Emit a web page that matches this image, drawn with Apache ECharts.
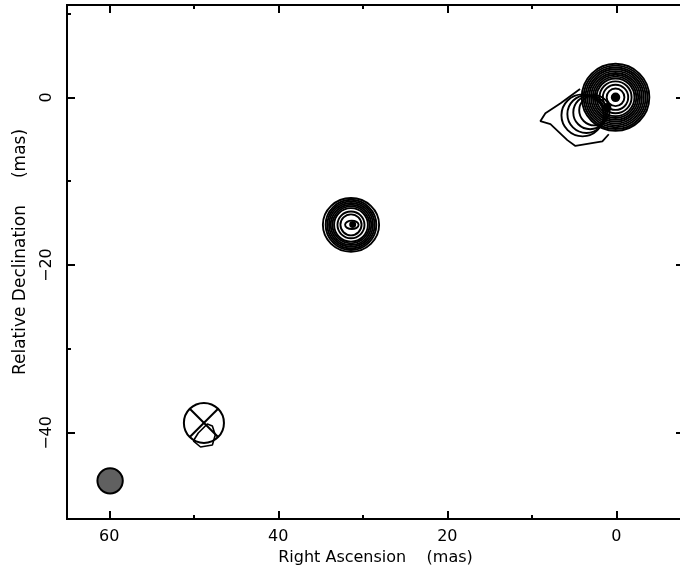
<!DOCTYPE html>
<html>
<head>
<meta charset="utf-8">
<script src="https://cdn.jsdelivr.net/npm/echarts@6/dist/echarts.min.js"></script>
<style>
html,body{margin:0;padding:0;background:#fff;}
#chart{width:680px;height:570px;}
</style>
</head>
<body>
<div id="chart"></div>
<script>
// ---- tick values (mas) ----
const xTicksMajor = [60, 40, 20, 0];
const xTicksMinor = [50, 30, 10];
const yTicksMajor = [0, -20, -40];
const yTicksMinor = [10, -10, -30];

// ---- core component contours: centre (RA, Dec) and radii (mas) ----
const coreCenter = [0.1, 0.0];
const coreRadii = [4.0, 3.78, 3.56, 3.34, 3.12, 2.9, 2.68, 2.46, 2.24, 1.9, 1.5, 1.05];
// jet contour loops west of core: [RA, Dec, radius]
const jetLoops = [[4.0, -2.15, 2.5], [3.55, -2.0, 2.25], [3.1, -1.8, 2.0], [2.6, -1.55, 1.8]];
// outer jet contour (RA, Dec)
const jetOuterRA  = [4.3, 6.6, 8.4, 9.0, 7.8, 5.8, 4.85, 1.66, 0.9];
const jetOuterDec = [1.0, -0.7, -1.9, -2.85, -3.2, -5.1, -5.8, -5.25, -4.4];

// ---- secondary component ----
const compCenter = [31.4, -15.2];
const compRadii = [3.2, 3.0, 2.8, 2.6, 2.4, 2.2, 2.0, 1.6, 1.25];
const compInner = [[31.3, -15.2, 0.8, 0.5, 0], [31.2, -15.15, 0.3, 0.3, 1]];

// ---- filled marks at core ----
const coreMarks = [[0.1, 0.0, 0.45, 0.45, 1], [1.1, -1.2, 0.4, 0.4, 1]];

// ---- crossed circle and faint contour ----
const crossCircle = [[48.8, -38.8, 2.37]];
const faintRA  = [50.06, 49.2, 47.8, 47.46, 47.8, 48.4, 49.47, 50.06];
const faintDec = [-40.95, -41.67, -41.43, -40.24, -39.17, -38.93, -40.0, -40.95];

// ---- restoring beam ----
const beam = [[59.9, -45.7, 1.5, 1.5]];

// ---- build data ----
const ellipseData = [];
coreRadii.forEach(r => ellipseData.push([coreCenter[0], coreCenter[1], r, r, 0]));
jetLoops.forEach(j => ellipseData.push([j[0], j[1], j[2], j[2], 0]));
compRadii.forEach((r, i) => ellipseData.push([compCenter[0], compCenter[1], r * (i === 0 ? 1.04 : 1.0), r, 0]));
compInner.forEach(c => ellipseData.push(c));
coreMarks.forEach(c => ellipseData.push(c));

const jetOuter = jetOuterRA.map((x, i) => [x, jetOuterDec[i]]);
const faint = faintRA.map((x, i) => [x, faintDec[i]]);

const FONT = 'DejaVu Sans';
const minus = v => String(v).replace('-', '\u2212');

function ellipseItem(params, api) {
  const c = api.coord([api.value(0), api.value(1)]);
  const s = api.size([api.value(2), api.value(3)]);
  const filled = api.value(4) === 1;
  return {
    type: 'ellipse',
    shape: { cx: c[0], cy: c[1], rx: Math.abs(s[0]), ry: Math.abs(s[1]) },
    style: { fill: filled ? '#000' : null, stroke: '#000', lineWidth: 1.9 }
  };
}

function crossItem(params, api) {
  const c = api.coord([api.value(0), api.value(1)]);
  const s = api.size([api.value(2), api.value(2)]);
  const r = Math.abs(s[0]);
  const d = r * Math.SQRT1_2;
  return {
    type: 'group',
    children: [
      { type: 'circle', shape: { cx: c[0], cy: c[1], r: r }, style: { fill: null, stroke: '#000', lineWidth: 2 } },
      { type: 'line', shape: { x1: c[0] - d, y1: c[1] - d, x2: c[0] + d, y2: c[1] + d }, style: { stroke: '#000', lineWidth: 2 } },
      { type: 'line', shape: { x1: c[0] - d, y1: c[1] + d, x2: c[0] + d, y2: c[1] - d }, style: { stroke: '#000', lineWidth: 2 } }
    ]
  };
}

function beamItem(params, api) {
  const c = api.coord([api.value(0), api.value(1)]);
  const s = api.size([api.value(2), api.value(3)]);
  return {
    type: 'ellipse',
    shape: { cx: c[0], cy: c[1], rx: Math.abs(s[0]), ry: Math.abs(s[1]) },
    style: { fill: '#606060', stroke: '#000', lineWidth: 2 }
  };
}

const axisLine = { show: true, onZero: false, lineStyle: { color: '#000', width: 2 } };
function xAx(pos, ticks, len, labels) {
  return {
    type: 'value', inverse: true, min: -8, max: 65, position: pos,
    axisLine: axisLine,
    splitLine: { show: false },
    axisTick: { show: true, inside: true, length: len, customValues: ticks, lineStyle: { color: '#000', width: 2 } },
    axisLabel: labels ? { show: true, customValues: ticks, margin: 10, color: '#000', fontFamily: FONT, fontSize: 16, formatter: minus } : { show: false },
    name: labels ? 'Right Ascension    (mas)' : '',
    nameLocation: 'middle', nameGap: 28,
    nameTextStyle: { color: '#000', fontFamily: FONT, fontSize: 16 }
  };
}
function yAx(pos, ticks, len, labels) {
  return {
    type: 'value', min: -50.25, max: 11, position: pos,
    axisLine: axisLine,
    splitLine: { show: false },
    axisTick: { show: true, inside: true, length: len, customValues: ticks, lineStyle: { color: '#000', width: 2 } },
    axisLabel: labels ? { show: true, customValues: ticks, rotate: 90, margin: 12, color: '#000', fontFamily: FONT, fontSize: 16, formatter: minus } : { show: false },
    name: labels ? 'Relative Declination     (mas)' : '',
    nameLocation: 'middle', nameGap: 38,
    nameTextStyle: { color: '#000', fontFamily: FONT, fontSize: 17, padding: [0, 0, 0, 20] }
  };
}

const chart = echarts.init(document.getElementById('chart'), null, { renderer: 'canvas' });
chart.setOption({
  animation: false,
  backgroundColor: '#fff',
  grid: { left: 67, top: 5, width: 617, height: 514, containLabel: false, outerBoundsMode: 'none' },
  xAxis: [
    xAx('bottom', xTicksMajor, 8, true),
    xAx('bottom', xTicksMinor, 4, false),
    xAx('top', xTicksMajor, 8, false),
    xAx('top', xTicksMinor, 4, false)
  ],
  yAxis: [
    yAx('left', yTicksMajor, 8, true),
    yAx('left', yTicksMinor, 4, false),
    yAx('right', yTicksMajor, 8, false),
    yAx('right', yTicksMinor, 4, false)
  ],
  series: [
    { type: 'custom', name: 'contours', renderItem: ellipseItem, data: ellipseData, clip: true, z: 2 },
    { type: 'line', name: 'jet outer', data: jetOuter, showSymbol: false, symbol: 'none', lineStyle: { color: '#000', width: 1.8 }, z: 2 },
    { type: 'line', name: 'faint', data: faint, showSymbol: false, symbol: 'none', lineStyle: { color: '#000', width: 1.6 }, z: 2 },
    { type: 'custom', name: 'cross', renderItem: crossItem, data: crossCircle, z: 3 },
    { type: 'custom', name: 'beam', renderItem: beamItem, data: beam, z: 3 }
  ]
});
</script>
</body>
</html>
